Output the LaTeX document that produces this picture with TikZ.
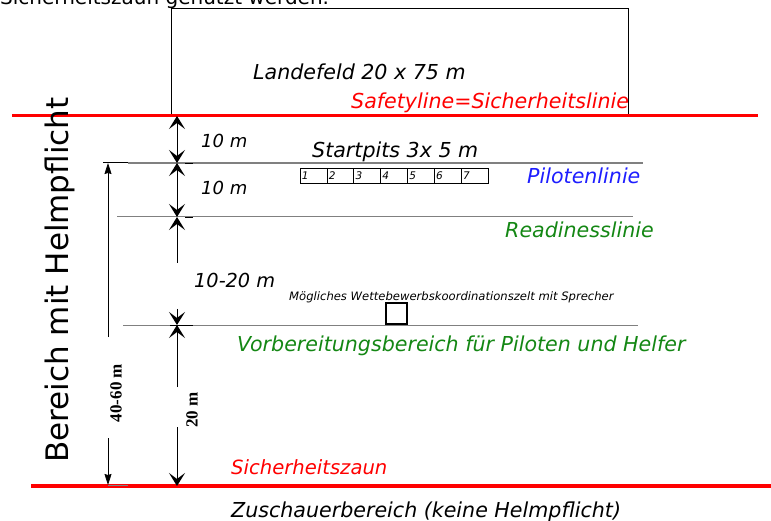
\documentclass[tikz,border=0pt]{standalone}
\usepackage{fontspec}
\setmainfont{DejaVu Sans}
\newfontfamily\serifbf{Liberation Serif}
\usepackage{xcolor}
\usetikzlibrary{arrows.meta}
\definecolor{RD}{RGB}{255,0,0}
\definecolor{BL}{RGB}{30,30,255}
\definecolor{GR}{RGB}{20,135,20}
\tikzset{
    LA/.style ={anchor=base west,inner sep=0pt,font=\fontsize{20.6}{24}\selectfont\itshape},
    LS/.style ={anchor=base west,inner sep=0pt,font=\fontsize{18}{22}\selectfont\itshape},
    RL/.style ={draw=RD,line width=3pt},
    GL/.style ={draw=gray,line width=#1},
    CH/.tip ={Stealth[length=13pt,width=16pt,inset=6pt,line width=1.4pt]},
    DM/.style ={line width=0.6pt,-CH},
    DD/.style ={line width=0.6pt,CH-CH},
    DL/.style ={line width=0.8pt,-{Stealth[length=11pt,width=7pt,inset=1pt]}},
    PB/.style ={rectangle,draw,minimum width=26.86pt,minimum height=15pt,inner sep=0pt,line width=.6pt},
    NB/.style ={anchor=west,inner sep=2pt,font=\fontsize{10.5}{12}\selectfont\itshape},
    DN/.style ={rotate=90,inner sep=0pt,font=\serifbf\bfseries\fontsize{17}{20}\selectfont}
}
\begin{document}
\begin{tikzpicture}[x=1pt,y=-1pt]
    \clip (0,0) rectangle (771,521);
    \node[anchor=base west,inner sep=0pt,font=\fontsize{20}{24}\selectfont] (intro) at (0,5) {Sicherheitszaun genützt werden.};
    \draw[line width=.8pt] (171,116) |- (628,8) -- (628,116);
    \node[LA] (feld) at (253,80) {Landefeld 20 x 75 m};
    \node[LA,text=RD] (safety) at (351,109) {Safetyline=Sicherheitslinie};
    \draw[RL] (12,116) -- (758,116);
    \draw[GL=1.6pt] (128,163) -- (643,163);
    \draw[GL=1pt] (117,217) -- (633,217);
    \draw[GL=.8pt] (123,325) -- (638,325);
    \draw[draw=RD,line width=3.5pt] (31,486) -- (771,486);
    \draw[line width=1pt] (103,163) -- (128,163);
    \draw[line width=1pt] (185,164) -- (193,164);
    \draw[line width=1pt] (185,218) -- (193,218);
    \draw[line width=.8pt] (170,325) -- (193,325);
    \draw[GL=.8pt] (108,485) -- (128,485);
    \node[LA] (pits) at (312,158) {Startpits 3x 5 m};
    \foreach \i in {1,...,7}
        \node[PB,label={[NB]west:\i}] (p\i) at (300+26.86*\i-13.43,175.5) {};
    \node[LA,text=BL] (pilot) at (527,184) {Pilotenlinie};
    \node[LA,text=GR] (ready) at (505,238) {Readinesslinie};
    \node[LS] (d1) at (201,148) {10 m};
    \node[LS] (d2) at (201,195) {10 m};
    \node[LS,font=\fontsize{19.3}{22}\selectfont\itshape] (d3) at (194,288) {10-20 m};
    \node[anchor=base west,inner sep=0pt,font=\fontsize{11.6}{14}\selectfont\itshape] (zelt) at (289,301) {Mögliches Wettebewerbskoordinationszelt mit Sprecher};
    \draw[line width=1.2pt] (386,303) rectangle (407,324);
    \node[LA,text=GR] (vorb) at (237,352) {Vorbereitungsbereich für Piloten und Helfer};
    \node[LA,font=\fontsize{19.6}{22}\selectfont\itshape,text=RD] (zaun) at (231,474) {Sicherheitszaun};
    \node[LA] (zusch) at (231,517) {Zuschauerbereich (keine Helmpflicht)};
    \coordinate (S0) at (177,116);
    \coordinate (S1) at (177,163);
    \coordinate (S2) at (177,217);
    \coordinate (S3) at (177,325);
    \coordinate (S4) at (177,486);
    \coordinate (g3a) at (177,263);
    \coordinate (g3b) at (177,309);
    \coordinate (g4a) at (177,387);
    \coordinate (g4b) at (177,427);
    \draw[DD] (S0) -- (S1);
    \draw[DD] (S1) -- (S2);
    \draw[DM] (g3a) -- (S2);
    \draw[DM] (g3b) -- (S3);
    \draw[DM] (g4a) -- (S3);
    \draw[DM] (g4b) -- (S4);
    \coordinate (H0) at (108,163);
    \coordinate (H1) at (108,485);
    \coordinate (h0) at (108,337);
    \coordinate (h1) at (108,438);
    \draw[DL] (h0) -- (H0);
    \draw[DL] (h1) -- (H1);
    \node[DN] (m4060) at (116,393) {40-60 m};
    \node[DN] (m20) at (192,410) {20 m};
    \node[rotate=90,inner sep=0pt,font=\fontsize{31}{36}\selectfont] (helm) at (60,280) {Bereich mit Helmpflicht};
\end{tikzpicture}
\end{document}
